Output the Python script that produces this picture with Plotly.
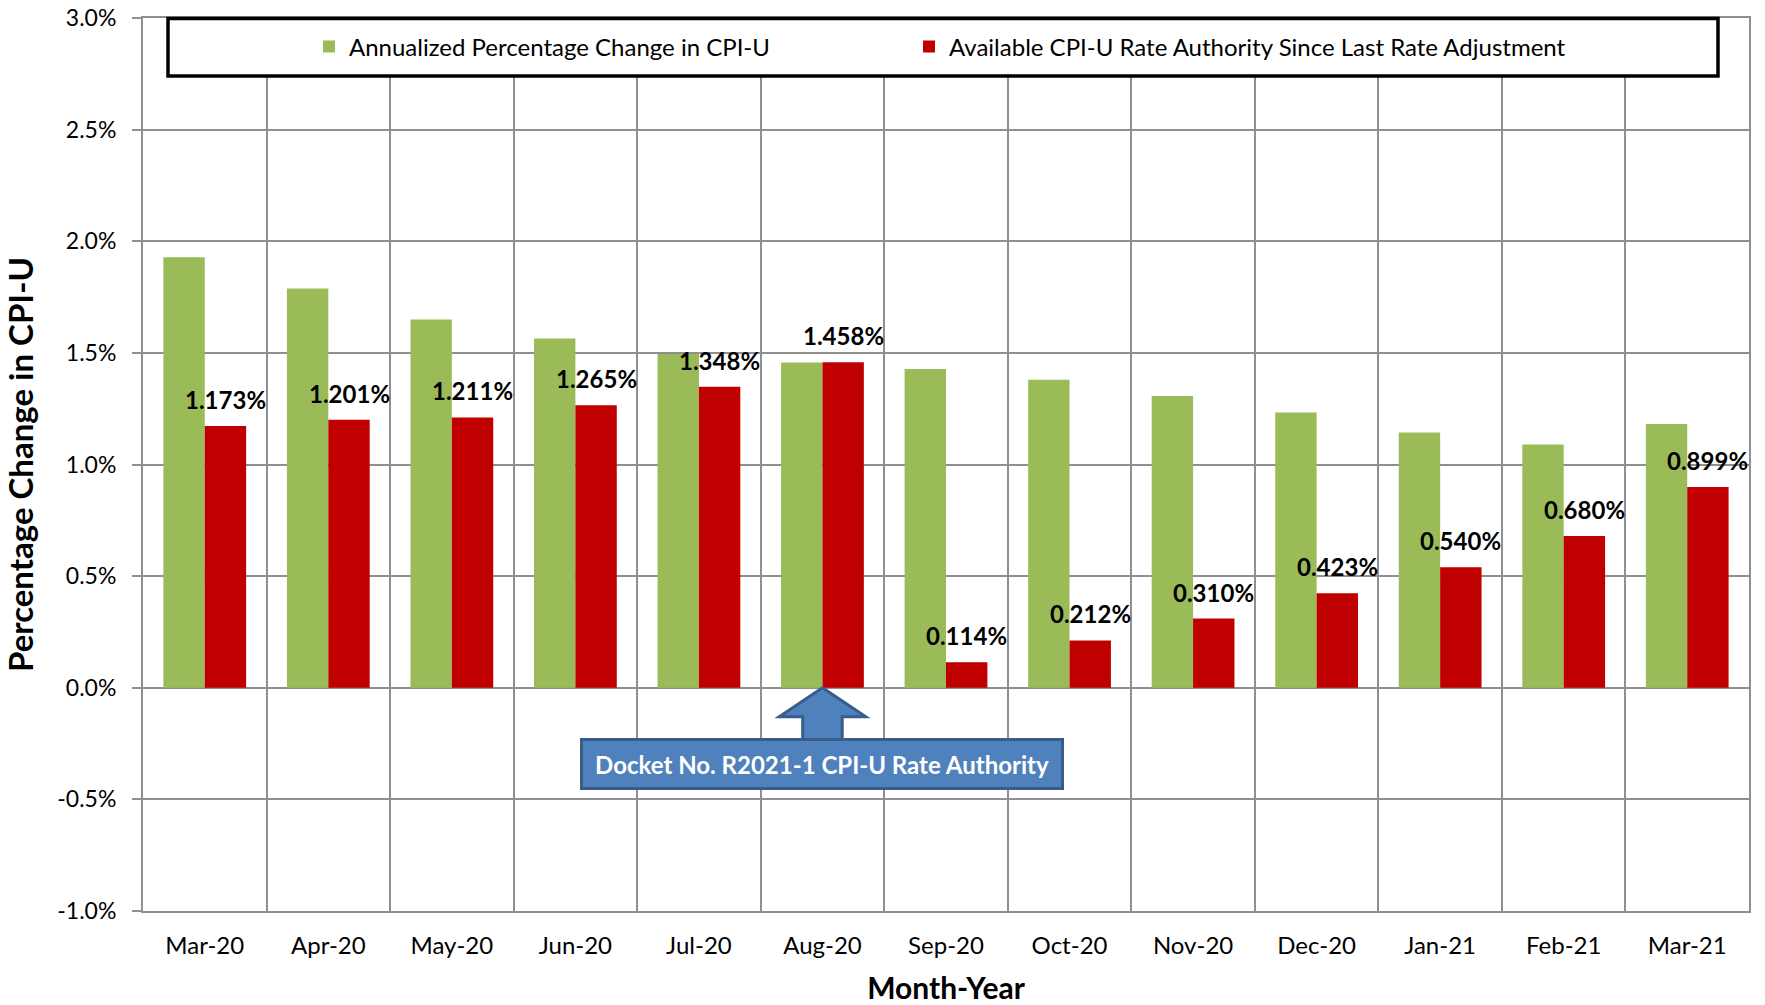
import plotly.graph_objects as go

months = ["Mar-20", "Apr-20", "May-20", "Jun-20", "Jul-20", "Aug-20", "Sep-20",
          "Oct-20", "Nov-20", "Dec-20", "Jan-21", "Feb-21", "Mar-21"]
annualized_cpi = [1.928, 1.788, 1.649, 1.564, 1.495, 1.457, 1.428,
                  1.380, 1.307, 1.233, 1.143, 1.090, 1.181]
available_authority = [1.173, 1.201, 1.211, 1.265, 1.348, 1.458, 0.114,
                       0.212, 0.310, 0.423, 0.540, 0.680, 0.899]
y_ticks = [-1.0, -0.5, 0.0, 0.5, 1.0, 1.5, 2.0, 2.5, 3.0]
y_ticktext = [f"{v:.1f}%" for v in y_ticks]

GREEN = "#9BBB59"
RED = "#C00000"
GRID = "#8F8F8F"
FONT = "Lato"

YMIN, YMAX = -1.0, 3.0
N = len(months)
BARGAP = 0.33

# plot area (page pixels): x 143..1749, y 18..911
PL, PT, PW, PH = 143, 18, 1606, 893


def xp(i):
    return (i + 0.5) / N


def yp(v):
    return (v - YMIN) / (YMAX - YMIN)


def px_x(x):
    return (x - PL) / PW


def px_y(y):
    return 1 - (y - PT) / PH


fig = go.Figure()
fig.add_trace(go.Bar(
    x=months, y=annualized_cpi, name="Annualized Percentage Change in CPI-U",
    marker=dict(color=GREEN, line=dict(width=0)), legend="legend",
))
fig.add_trace(go.Bar(
    x=months, y=available_authority,
    name="Available CPI-U Rate Authority Since Last Rate Adjustment",
    marker=dict(color=RED, line=dict(width=0)), legend="legend2",
))

# value labels above the red bars (centre of the second bar in each group)
red_offset = (1 - BARGAP) / 4
for i, v in enumerate(available_authority):
    fig.add_annotation(
        x=i + red_offset, y=v, xref="x", yref="y", showarrow=False,
        text=f"<b>{v:.3f}%</b>", xanchor="center", yanchor="bottom", yshift=10,
        font=dict(family=FONT, size=24, color="black"),
    )

# Legend frame
fig.add_shape(type="rect", xref="paper", yref="paper",
              x0=px_x(168), x1=px_x(1718), y0=px_y(76), y1=px_y(18.6),
              line=dict(color="black", width=3.5), fillcolor="white", layer="above")

# Block arrow pointing to Aug-20
idx = months.index("Aug-20")
tip_y, head_y, stem_y = 0.0, -0.13, -0.24
hw, sw = 0.35, 0.16
pts = [(idx, tip_y), (idx + hw, head_y), (idx + sw, head_y), (idx + sw, stem_y),
       (idx - sw, stem_y), (idx - sw, head_y), (idx - hw, head_y)]
path = "M " + " L ".join(f"{xp(a):.5f},{yp(b):.5f}" for a, b in pts) + " Z"
fig.add_shape(type="path", xref="paper", yref="paper", path=path,
              fillcolor="#4F81BD", line=dict(color="#385D8A", width=3), layer="above")

fig.add_annotation(
    x=xp(idx), y=yp(-0.340), xref="paper", yref="paper",
    xanchor="center", yanchor="middle",
    text="<b>Docket No. R2021-1 CPI-U Rate Authority</b>", showarrow=False,
    font=dict(family=FONT, size=24, color="white"),
    bgcolor="#4F81BD", bordercolor="#385D8A", borderwidth=3, borderpad=0,
    width=478, height=46, align="center", valign="middle",
)

legend_common = dict(orientation="h", xanchor="left", y=px_y(47), yanchor="middle",
                     font=dict(family=FONT, size=24), bgcolor="rgba(0,0,0,0)",
                     borderwidth=0)

fig.update_layout(
    width=1765, height=1005,
    margin=dict(l=PL, r=1765 - (PL + PW), t=PT, b=1005 - (PT + PH)),
    paper_bgcolor="white", plot_bgcolor="white",
    barmode="group", bargap=BARGAP, bargroupgap=0,
    font=dict(family=FONT, color="black"),
    legend=dict(x=px_x(309), **legend_common),
    legend2=dict(x=px_x(909), **legend_common),
    showlegend=True,
)
fig.update_xaxes(
    type="category", range=[-0.5, N - 0.5], tickson="boundaries", automargin=False,
    showgrid=True, gridcolor=GRID, gridwidth=2, ticks="",
    showline=True, linecolor=GRID, linewidth=2, mirror=True,
    tickfont=dict(family=FONT, size=24), ticklabelstandoff=12,
    title=dict(text="<b>Month-Year</b>", font=dict(family=FONT, size=30), standoff=20),
)
fig.update_yaxes(
    range=[YMIN, YMAX], tickvals=y_ticks, ticktext=y_ticktext, automargin=False,
    showgrid=True, gridcolor=GRID, gridwidth=2, zeroline=False,
    ticks="outside", ticklen=9, tickwidth=2, tickcolor=GRID,
    showline=True, linecolor=GRID, linewidth=2, mirror=True,
    tickfont=dict(family=FONT, size=23), ticklabelstandoff=11, ticklabeloverflow="allow",
    title=dict(text="<b>Percentage Change in CPI-U</b>", font=dict(family=FONT, size=33),
               standoff=16),
)

fig.write_html("out.html", config={"displayModeBar": False},
               post_script="document.body.style.margin='0';document.body.style.overflow='hidden';")
